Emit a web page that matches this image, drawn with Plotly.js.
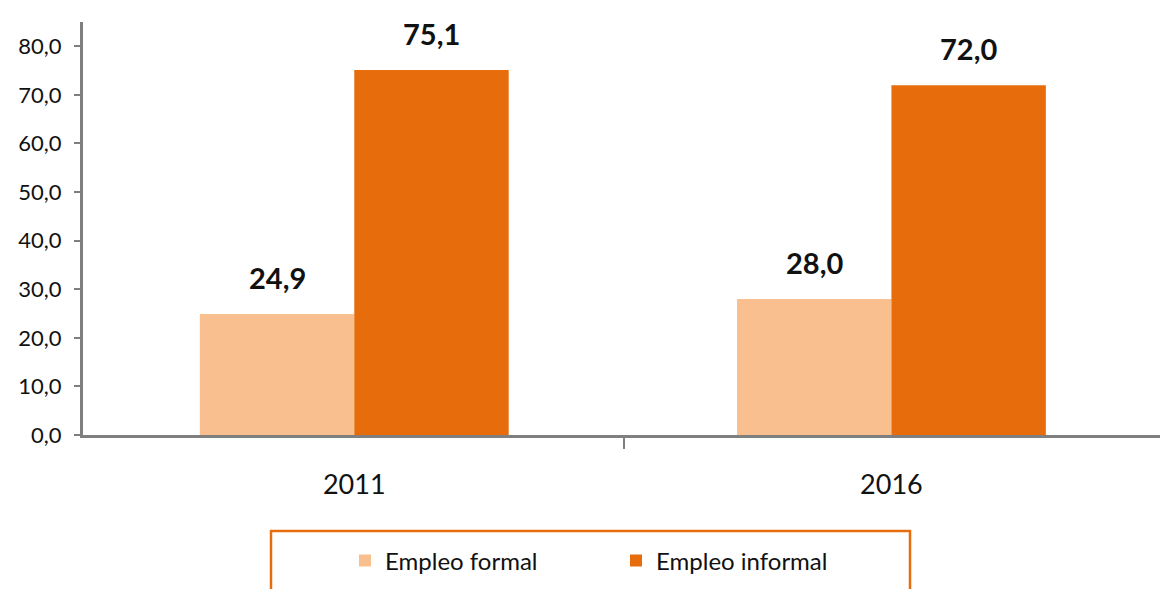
<!DOCTYPE html>
<html><head><meta charset="utf-8">
<script src="https://cdn.plot.ly/plotly-3.0.1.min.js"></script>
<style>html,body{margin:0;padding:0;background:#fff}#c{width:1160px;height:589px}</style>
</head><body><div id="c"></div>
<script>
var categories = ['2011', '2016'];
var seriesNames = ['Empleo formal', 'Empleo informal'];
var formal = [24.9, 28.0];
var informal = [75.1, 72.0];
var yTicks = [0, 10, 20, 30, 40, 50, 60, 70, 80];

var colors = ['#F9BF8F', '#E66C0C'];
var traces = [
  {type:'bar', name:seriesNames[0], x:categories, y:formal, marker:{color:colors[0]}},
  {type:'bar', name:seriesNames[1], x:categories, y:informal, marker:{color:colors[1]}}
];
var fmt = function(v){ return v.toFixed(1).replace('.', ','); };
var annotations = [];
[formal, informal].forEach(function(arr, si){
  arr.forEach(function(v, i){
    annotations.push({x:i, y:v, xref:'x', yref:'y', text:'<b>'+fmt(v)+'</b>',
      showarrow:false, yanchor:'bottom', xanchor:'center', yshift:17, xshift:(si===0?-77:77),
      font:{family:'Lato, Open Sans, sans-serif', size:29, color:'#111'}});
  });
});
var layout = {
  width:1160, height:589,
  margin:{l:83, r:0, t:22, b:154},
  paper_bgcolor:'#fff', plot_bgcolor:'#fff',
  separators:',.',
  barmode:'group', bargap:0.425, bargroupgap:0,
  showlegend:true,
  legend:{orientation:'h', x:(345-83)/1077, xanchor:'left', y:-0.305, yanchor:'middle',
    bgcolor:'rgba(0,0,0,0)',
    font:{family:'Lato, Open Sans, sans-serif', size:24, color:'#111'},
    itemwidth:30, traceorder:'normal', entrywidth:226},
  xaxis:{type:'category', range:[-0.505, 1.5], showgrid:false, zeroline:false,
    showline:true, linecolor:'#7f7f7f', linewidth:3,
    ticks:'', tickfont:{family:'Lato, Open Sans, sans-serif', size:27, color:'#111'},
    ticklabelstandoff:24},
  yaxis:{range:[0, 85], tickvals:yTicks, tickformat:'.1f', showgrid:false, zeroline:false,
    showline:true, linecolor:'#7f7f7f', linewidth:3, ticks:'outside', ticklen:6,
    tickcolor:'#7f7f7f', tickwidth:2, ticklabelstandoff:8,
    tickfont:{family:'Lato, Open Sans, sans-serif', size:22, color:'#111'}},
  annotations:annotations,
  shapes:[
    {type:'rect', xref:'paper', yref:'paper', x0:(271-83)/1077, x1:(910-83)/1077,
     y0:(435-595)/413, y1:(435-531)/413, line:{color:'#E66C0C', width:2.5}, fillcolor:'rgba(0,0,0,0)'},
    {type:'line', xref:'paper', yref:'paper', x0:(624-83)/1077, x1:(624-83)/1077,
     y0:0, y1:-14/413, line:{color:'#7f7f7f', width:2}}
  ]
};
Plotly.newPlot('c', traces, layout, {displayModeBar:false, staticPlot:true});
</script></body></html>
